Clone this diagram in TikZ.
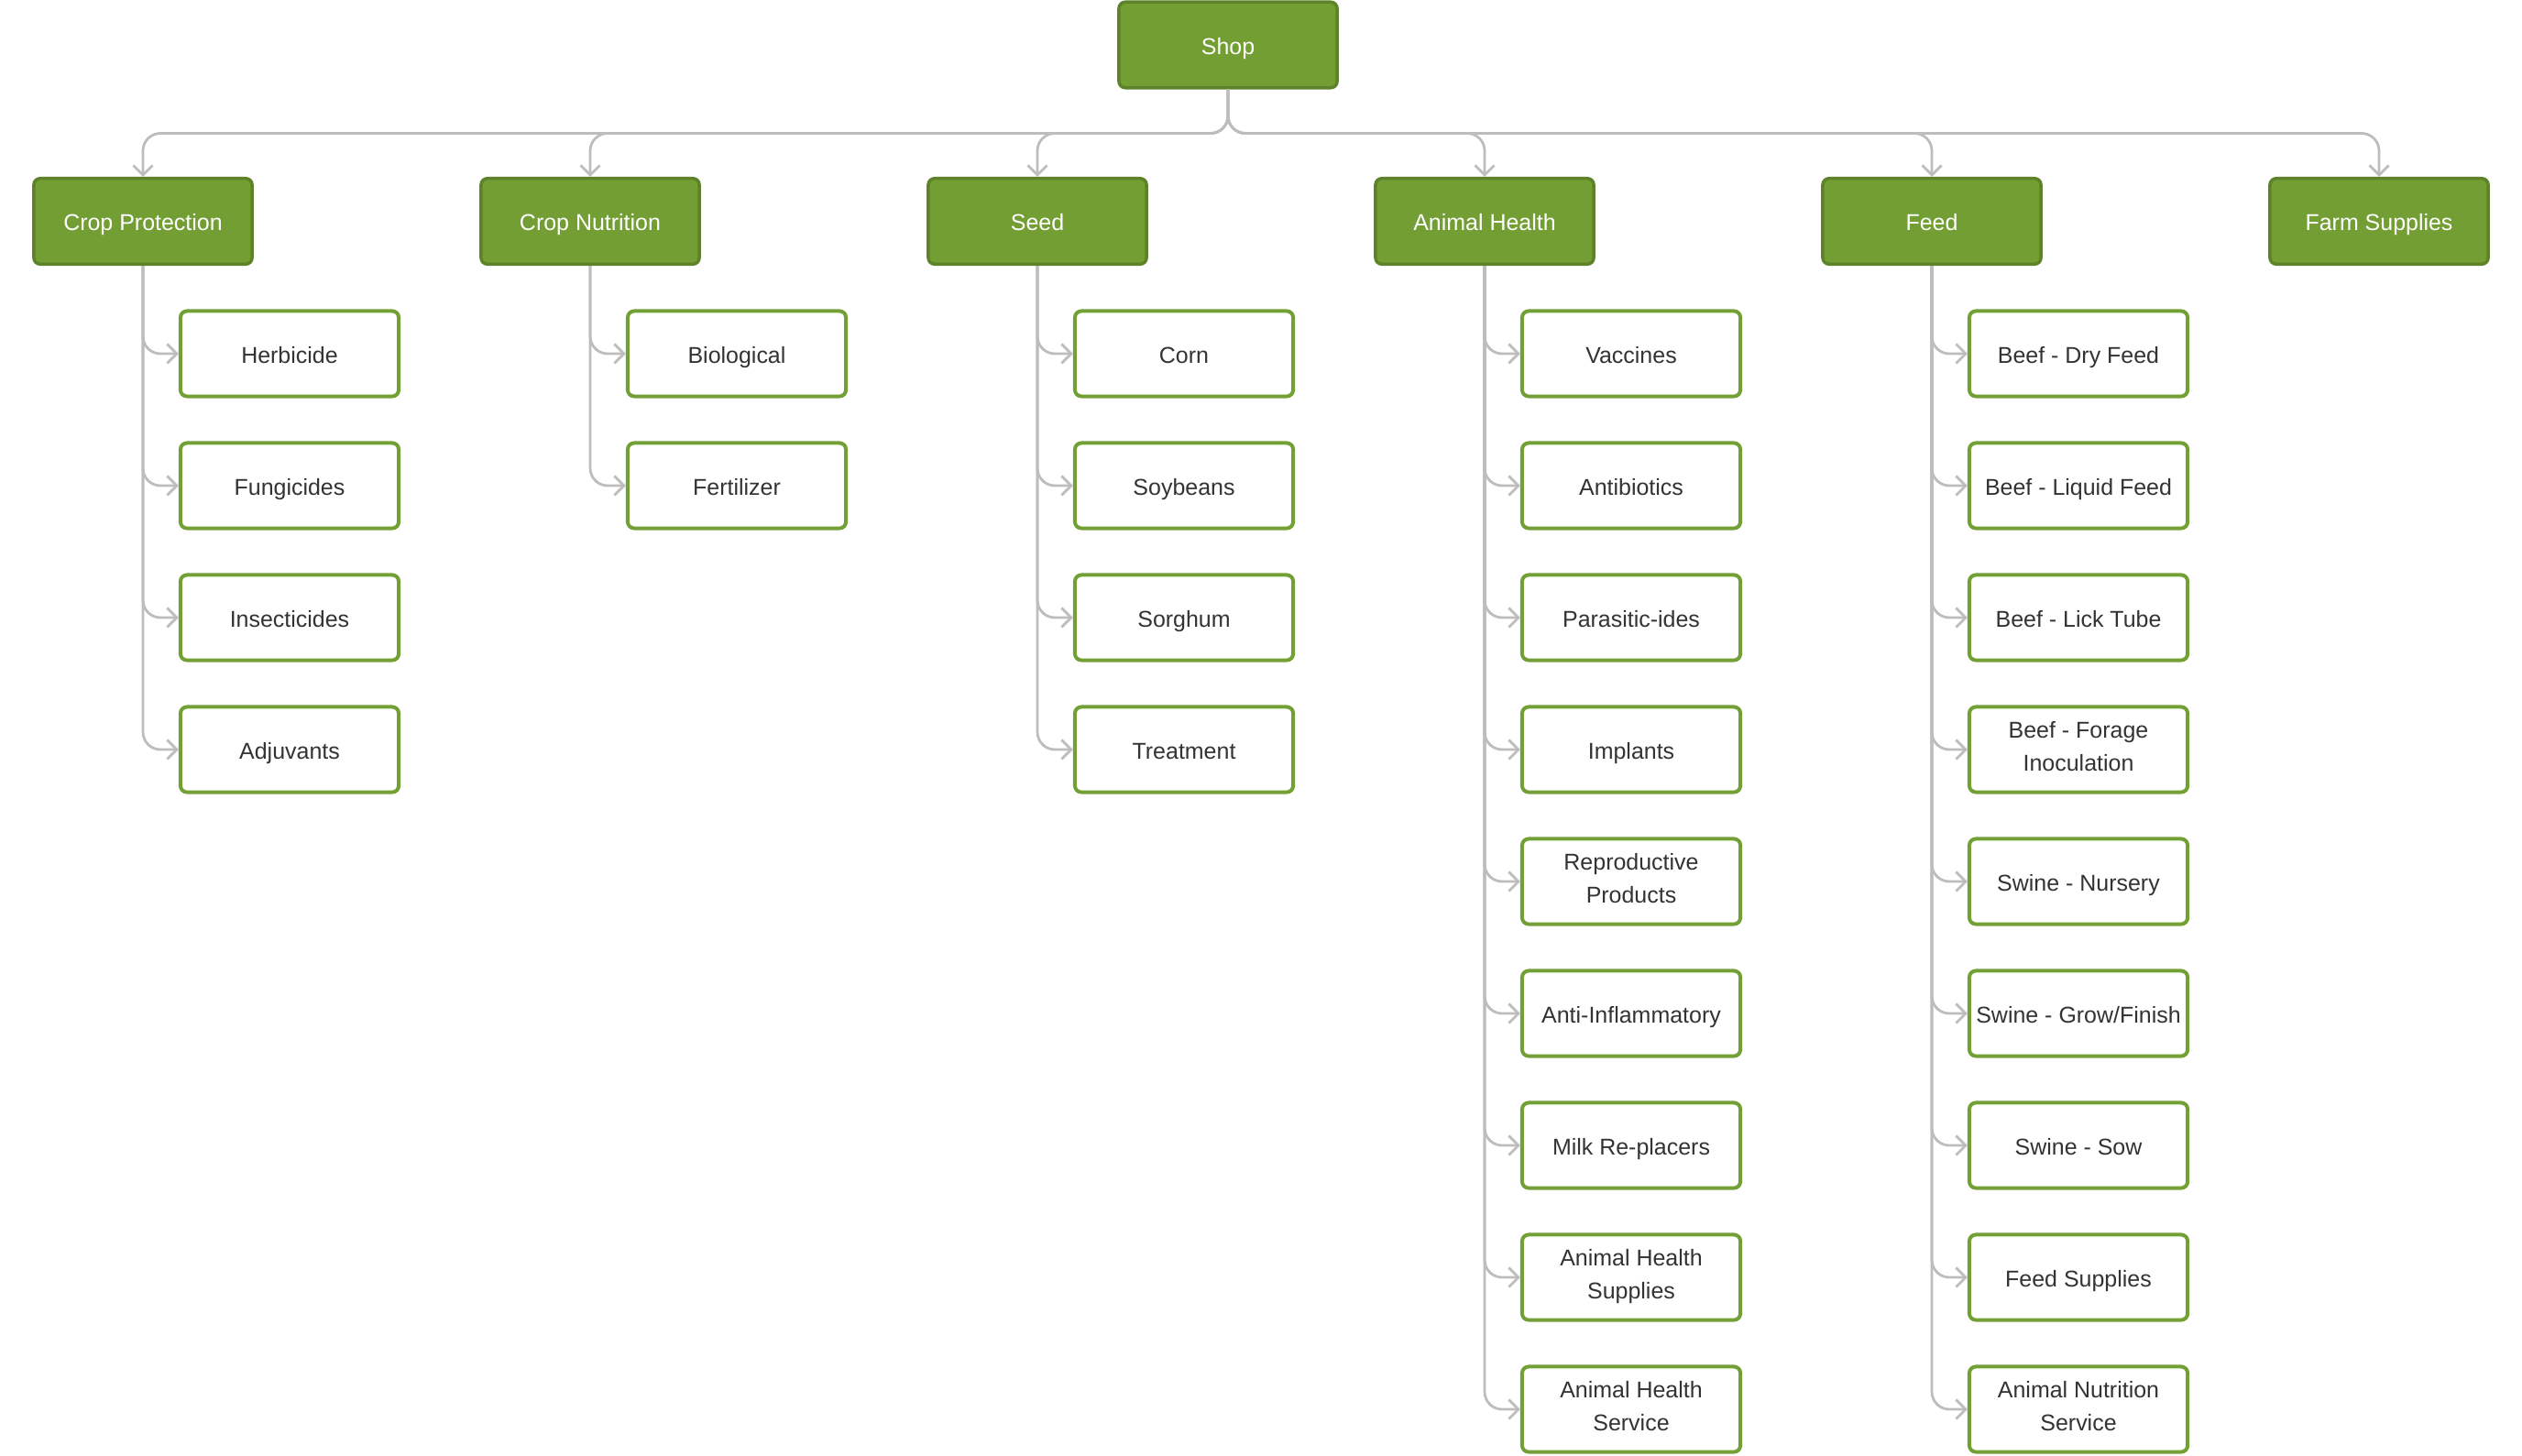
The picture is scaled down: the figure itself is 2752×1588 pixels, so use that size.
\documentclass[tikz,border=0pt]{standalone}
\usepackage{fontspec}
\setmainfont{Liberation Sans}
\usetikzlibrary{arrows.meta}
\definecolor{gfill}{HTML}{739E34}
\definecolor{gdark}{HTML}{5E8229}
\definecolor{gline}{HTML}{72A035}
\definecolor{connc}{HTML}{BDBDBD}
\definecolor{txtc}{HTML}{333333}
\begin{document}
\begin{tikzpicture}[x=0.01cm,y=-0.01cm,
  boxtext/.style={font=\fontsize{7.1}{10}\selectfont, align=center, inner sep=0pt,
    execute at begin node={\rule{0pt}{7.8pt}},
    execute at end node={\rule[-2pt]{0pt}{2pt}}},
  topbox/.style={boxtext, draw=gdark, fill=gfill, line width=0.035cm, rounded corners=0.07cm,
    minimum width=2.38cm, minimum height=0.935cm, text=white},
  childbox/.style={boxtext, draw=gline, fill=white, line width=0.04cm, rounded corners=0.07cm,
    minimum width=2.38cm, minimum height=0.93cm, text=txtc},
  link/.style={draw=connc, line width=0.028cm, rounded corners=0.19cm,
    -{Straight Barb[length=3pt,width=6pt]}},
]
\useasboundingbox (0,0) rectangle (2752,1588);

\node[topbox] (shop) at (1340,49) {Shop};
\node[topbox] (cp) at (156,241.5) {Crop Protection};
\node[topbox] (cn) at (644,241.5) {Crop Nutrition};
\node[topbox] (seed) at (1132,241.5) {Seed};
\node[topbox] (ah) at (1620,241.5) {Animal Health};
\node[topbox] (feed) at (2108,241.5) {Feed};
\node[topbox] (fs) at (2596,241.5) {Farm Supplies};

\foreach \n in {cp,cn,seed,ah,feed,fs}{
  \draw[link] (shop.south) -- ++(0,48) -| (\n.north);
}

\foreach \t [count=\i] in {Herbicide, Fungicides, Insecticides, Adjuvants}{
  \node[childbox] (cp\i) at (316,{242+144*\i}) {\t};
  \draw[link] (cp.south) |- (cp\i.west);
}
\foreach \t [count=\i] in {Biological, Fertilizer}{
  \node[childbox] (cn\i) at (804,{242+144*\i}) {\t};
  \draw[link] (cn.south) |- (cn\i.west);
}
\foreach \t [count=\i] in {Corn, Soybeans, Sorghum, Treatment}{
  \node[childbox] (seed\i) at (1292,{242+144*\i}) {\t};
  \draw[link] (seed.south) |- (seed\i.west);
}
\foreach \t [count=\i] in {Vaccines, Antibiotics, Parasitic-ides, Implants,
  {Reproductive\\Products}, Anti-Inflammatory, Milk Re-placers,
  {Animal Health\\Supplies}, {Animal Health\\Service}}{
  \node[childbox] (ah\i) at (1780,{242+144*\i}) {\t};
  \draw[link] (ah.south) |- (ah\i.west);
}
\foreach \t [count=\i] in {Beef - Dry Feed, Beef - Liquid Feed, Beef - Lick Tube,
  {Beef - Forage\\Inoculation}, Swine - Nursery, Swine - Grow/Finish, Swine - Sow,
  Feed Supplies, {Animal Nutrition\\Service}}{
  \node[childbox] (feed\i) at (2268,{242+144*\i}) {\t};
  \draw[link] (feed.south) |- (feed\i.west);
}
\end{tikzpicture}
\end{document}
